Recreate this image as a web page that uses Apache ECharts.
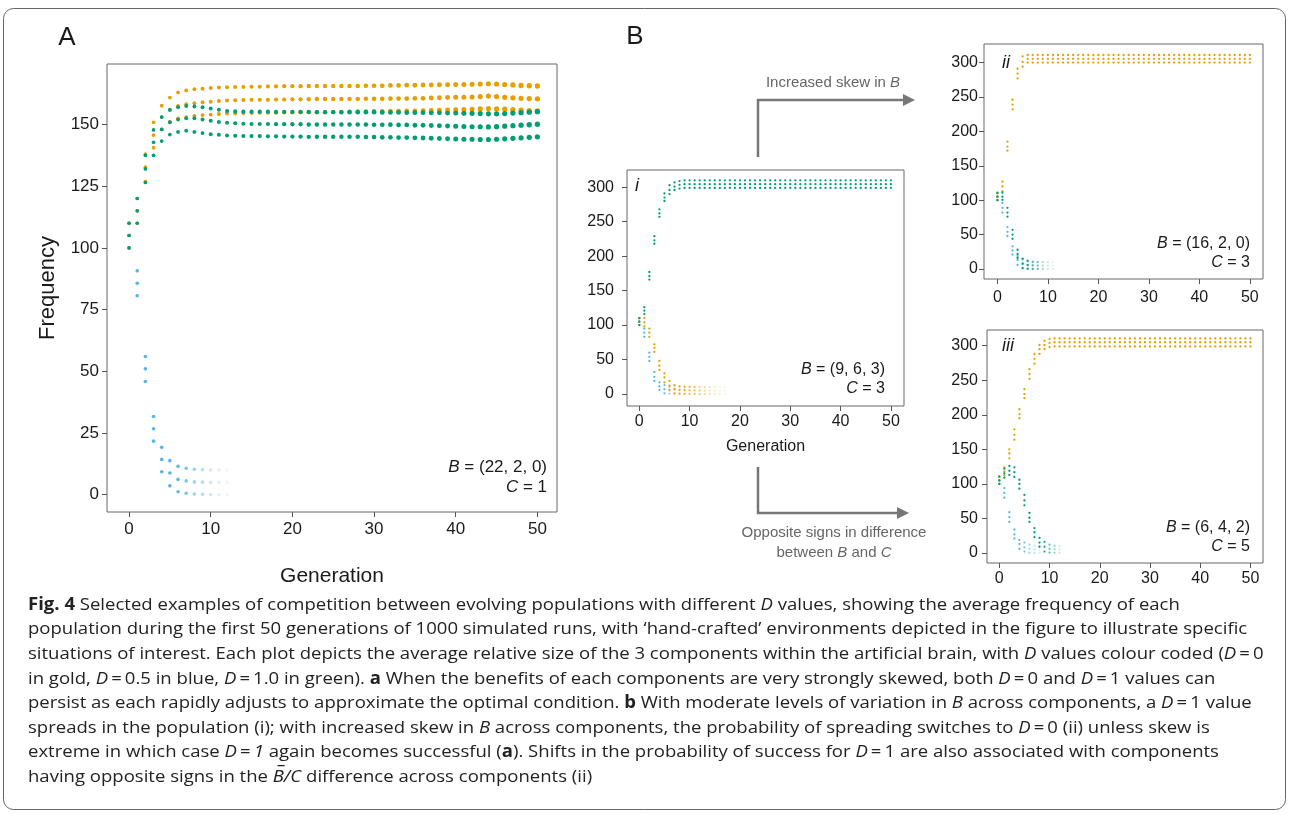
<!DOCTYPE html>
<html>
<head>
<meta charset="utf-8">
<title>Fig. 4</title>
<script src="https://cdn.jsdelivr.net/npm/echarts@6/dist/echarts.min.js"></script>
<style>
  html, body { margin: 0; padding: 0; background: #fff; }
  #fig { width: 1290px; height: 814px; }
</style>
</head>
<body>
<div id="fig"></div>
<script>
// ---- data: value per generation (index = generation), 3 components per population ----
// panel A, B = (22, 2, 0), C = 1
var goldA1 = [110,120,138,150.9,157.6,160.9,163,163.8,164.3,164.5,164.8,165,165.1,165.2,165.2,165.3,165.3,165.4,165.4,165.5,165.5,165.5,165.6,165.6,165.6,165.6,165.6,165.6,165.6,165.7,165.7,165.7,165.8,165.8,165.9,165.9,166,166,166.1,166.1,166.2,166.2,166.3,166.4,166.5,166.4,166.2,166,165.8,165.7,165.6];
var goldA2 = [105,115,132.7,145.7,153,156,157.5,158.2,158.6,159,159.2,159.5,159.7,159.8,159.9,160,160,160,160.1,160.1,160.2,160.2,160.2,160.3,160.3,160.3,160.3,160.3,160.3,160.4,160.4,160.4,160.5,160.5,160.5,160.6,160.6,160.7,160.8,160.9,161,161,161.1,161.3,161.5,161.3,161,160.8,160.6,160.5,160.4];
var goldA3 = [100,110,126.9,140.6,148,151,152.5,153,153.5,153.8,154,154.2,154.4,154.5,154.6,154.7,154.8,154.8,154.8,154.9,154.9,155,155,155,155,155.1,155.1,155.1,155.2,155.2,155.3,155.3,155.4,155.4,155.5,155.5,155.6,155.7,155.8,155.9,156,156.1,156.2,156.3,156.4,156.3,156.2,156,155.8,155.6,155.5];
var greenA1 = [110,120,137.5,147.8,153,155.9,157,157.5,157.3,157,156.5,156,155.5,155.3,155.2,155.2,155.2,155.2,155.1,155.1,155.1,155.1,155.1,155,155,155,155,155,155,155,155,154.9,154.9,154.9,154.8,154.8,154.8,154.7,154.7,154.6,154.6,154.5,154.5,154.4,154.3,154.3,154.4,154.6,154.8,155,155.2];
var greenA2 = [105,115,132,142.8,148,150.9,152,152.5,152.5,152,151.5,151,150.7,150.5,150.3,150.2,150.2,150.2,150.1,150.1,150.1,150.1,150,150,150,150,150,150,150,150,149.9,149.9,149.9,149.8,149.8,149.7,149.7,149.6,149.5,149.4,149.3,149.2,149.1,149.1,149,149.1,149.3,149.5,149.7,149.9,150.1];
var greenA3 = [100,110,126.5,137.5,143.3,145.9,147,147.5,147,146.5,146,145.8,145.5,145.4,145.3,145.3,145.3,145.2,145.2,145.1,145.1,145.1,145,145,145,145,145,145,145,144.9,144.9,144.8,144.8,144.7,144.7,144.6,144.5,144.4,144.3,144.2,144.1,144,144,143.9,143.9,144,144.2,144.4,144.6,144.8,145];
var blueA1 = [110,90.7,56,31.7,19.2,13.8,11.5,10.7,10.3,10.1,10,10,10];
var blueA2 = [105,85.7,51,26.7,14.3,8.8,6.2,5.6,5.2,5.1,5,5,5];
var blueA3 = [100,80.6,45.9,21.7,9.3,3.6,1.2,0.6,0.3,0.2,0.1,0,0];
var blueAliveA = [1,1,1,1,1,1,0.95,0.8,0.6,0.45,0.3,0.18,0.1];

// panel B i, B = (9, 6, 3), C = 3
var greenI1 = [110,126,177,229,268,291,303,307,309,310,310,310,310,310,310,310,310,310,310,310,310,310,310,310,310,310,310,310,310,310,310,310,310,310,310,310,310,310,310,310,310,310,310,310,310,310,310,310,310,310,310];
var greenI2 = [105,121,171,223,262,285,296,301,303.5,304.5,304.5,304.5,304.5,304.5,304.5,304.5,304.5,304.5,304.5,304.5,304.5,304.5,304.5,304.5,304.5,304.5,304.5,304.5,304.5,304.5,304.5,304.5,304.5,304.5,304.5,304.5,304.5,304.5,304.5,304.5,304.5,304.5,304.5,304.5,304.5,304.5,304.5,304.5,304.5,304.5,304.5];
var greenI3 = [100,116,166,218,257,280,290,296,298,299,299,299,299,299,299,299,299,299,299,299,299,299,299,299,299,299,299,299,299,299,299,299,299,299,299,299,299,299,299,299,299,299,299,299,299,299,299,299,299,299,299];
var goldI1 = [110,110,95,72,48,30,19,13,11,10.5,10.3,10.2,10.1,10,10,10,10,10];
var goldI2 = [105,104,89,67,41,24,12,7,6,5.5,5.3,5.2,5.1,5,5,5,5,5];
var goldI3 = [100,98,83,61,35,17,6,1,0.5,0.3,0.2,0.1,0,0,0,0,0,0];
var goldAliveI = [1,1,1,1,1,1,1,1,0.95,0.85,0.75,0.62,0.5,0.4,0.3,0.22,0.15,0.1];
var blueI1 = [110,95,60,32,17,13,10,10];
var blueI2 = [105,89,54,25,11,7,5,5];
var blueI3 = [100,83,48,19,6,1,0.5,0];
var blueAliveI = [1,1,1,1,1,0.9,0.5,0.25];

// panel B ii, B = (16, 2, 0), C = 3
var goldII1 = [110,127,185,246,291,309,311,311,311,311,311,311,311,311,311,311,311,311,311,311,311,311,311,311,311,311,311,311,311,311,311,311,311,311,311,311,311,311,311,311,311,311,311,311,311,311,311,311,311,311,311];
var goldII2 = [105,120,178,239,284,301,305.5,305.5,305.5,305.5,305.5,305.5,305.5,305.5,305.5,305.5,305.5,305.5,305.5,305.5,305.5,305.5,305.5,305.5,305.5,305.5,305.5,305.5,305.5,305.5,305.5,305.5,305.5,305.5,305.5,305.5,305.5,305.5,305.5,305.5,305.5,305.5,305.5,305.5,305.5,305.5,305.5,305.5,305.5,305.5,305.5];
var goldII3 = [100,113,172,232,277,294,300,300,300,300,300,300,300,300,300,300,300,300,300,300,300,300,300,300,300,300,300,300,300,300,300,300,300,300,300,300,300,300,300,300,300,300,300,300,300,300,300,300,300,300,300];
var greenII1 = [111,111,89,57,28,15,12,10.5,10,10,10,10];
var greenII2 = [105,105,82,50,22,8,6,5.3,5,5,5,5];
var greenII3 = [100,100.6,76,44,16,1.4,0.5,0.2,0,0,0,0];
var greenAliveII = [1,1,1,1,1,1,0.9,0.7,0.5,0.35,0.2,0.1];
var blueII1 = [110,96,61,33,19,14,11,10,10];
var blueII2 = [105,89,54,27,13,7,5.5,5,5];
var blueII3 = [100,82,48,21,6,1,0.5,0,0];
var blueAliveII = [1,1,1,1,1,0.85,0.6,0.35,0.2];

// panel B iii, B = (6, 4, 2), C = 5
var goldIII1 = [110,124,150,179,208,237,266,288,301,307,310,310.5,310.5,310.5,310.5,310.5,310.5,310.5,310.5,310.5,310.5,310.5,310.5,310.5,310.5,310.5,310.5,310.5,310.5,310.5,310.5,310.5,310.5,310.5,310.5,310.5,310.5,310.5,310.5,310.5,310.5,310.5,310.5,310.5,310.5,310.5,310.5,310.5,310.5,310.5,310.5];
var goldIII2 = [105,118,144,171,201,230,259,281,295,301,304,305,305,305,305,305,305,305,305,305,305,305,305,305,305,305,305,305,305,305,305,305,305,305,305,305,305,305,305,305,305,305,305,305,305,305,305,305,305,305,305];
var goldIII3 = [100,112,137,164,195,224,252,274,288,295,298,299,299,299,299,299,299,299,299,299,299,299,299,299,299,299,299,299,299,299,299,299,299,299,299,299,299,299,299,299,299,299,299,299,299,299,299,299,299,299,299];
var greenIII1 = [111,122,126,124,106,84,58,36,22,16,12,10.5,10];
var greenIII2 = [105,115,119,117,100,76,51,30,15,9,6,5.3,5];
var greenIII3 = [100,109,113,110,93,69,45,23,9,2,0.5,0.2,0];
var greenAliveIII = [1,1,1,1,1,1,1,1,1,0.85,0.6,0.4,0.2];
var blueIII1 = [110,94,59,34,19,15,12,10.5,10];
var blueIII2 = [105,87,52,27,13,8,6,5,5];
var blueIII3 = [100,80,45,21,6,2,0.5,0,0];
var blueAliveIII = [1,1,1,1,1,0.8,0.55,0.35,0.2];

// tick labels
var genTicks = [0, 10, 20, 30, 40, 50];
var freqTicksA = [0, 25, 50, 75, 100, 125, 150];
var freqTicksB = [0, 50, 100, 150, 200, 250, 300];

var GOLD = '#E69F00', BLUE = '#56B4E9', GREEN = '#009E73';
var FONT = '"Liberation Sans", Arial, Helvetica, sans-serif';
var INK = '#1a1a1a';

function points(rows, alive) {
  var out = [];
  rows.forEach(function (row) {
    row.forEach(function (v, g) {
      out.push({ value: [g, v], itemStyle: { opacity: alive ? alive[g] : 1 } });
    });
  });
  return out;
}

function dots(grid, color, rows, alive, size) {
  return {
    type: 'scatter', xAxisIndex: grid, yAxisIndex: grid,
    data: points(rows, alive),
    symbolSize: size,
    itemStyle: { color: color },
    silent: true
  };
}

function xAxisFor(grid, min, max, fs, margin, name, gap) {
  return {
    gridIndex: grid, type: 'value', min: min, max: max, position: 'bottom',
    axisLine: { show: false, onZero: false },
    axisTick: { show: true, length: 5, customValues: genTicks, lineStyle: { color: '#555' } },
    axisLabel: { customValues: genTicks, fontSize: fs, color: INK, fontFamily: FONT, margin: margin },
    splitLine: { show: false },
    name: name || '', nameLocation: 'middle', nameGap: gap || 0,
    nameTextStyle: { fontSize: grid === 0 ? 21 : 16, color: INK, fontFamily: FONT }
  };
}

function yAxisFor(grid, min, max, ticks, fs, margin, name, gap) {
  return {
    gridIndex: grid, type: 'value', min: min, max: max, position: 'left',
    axisLine: { show: false, onZero: false },
    axisTick: { show: true, length: 5, customValues: ticks, lineStyle: { color: '#555' } },
    axisLabel: { customValues: ticks, fontSize: fs, color: INK, fontFamily: FONT, margin: margin },
    splitLine: { show: false },
    name: name || '', nameLocation: 'middle', nameGap: gap || 0, nameRotate: 90,
    nameTextStyle: { fontSize: 22, color: INK, fontFamily: FONT }
  };
}

var gridBox = { show: true, borderColor: '#666', borderWidth: 1, backgroundColor: 'transparent', outerBoundsMode: 'none' };

function note(x, y, text, size, color, align) {
  return {
    type: 'text', x: x, y: y, silent: true,
    style: {
      text: text, fontSize: size, fontFamily: FONT, fill: color || INK,
      align: align || 'right', verticalAlign: 'middle',
      rich: { i: { fontStyle: 'italic', fontSize: size, fontFamily: FONT, fill: color || INK } }
    }
  };
}

var CAP = '"Open Sans", "Noto Sans", sans-serif';
var captionLines = [
  '{b|Fig. 4} Selected examples of competition between evolving populations with different {i|D} values, showing the average frequency of each',
  'population during the first 50 generations of 1000 simulated runs, with \u2018hand-crafted\u2019 environments depicted in the figure to illustrate specific',
  'situations of interest. Each plot depicts the average relative size of the 3 components within the artificial brain, with {i|D} values colour coded ({i|D}\u2009=\u20090',
  'in gold, {i|D}\u2009=\u20090.5 in blue, {i|D}\u2009=\u20091.0 in green). {b|a} When the benefits of each components are very strongly skewed, both {i|D}\u2009=\u20090 and {i|D}\u2009=\u20091 values can',
  'persist as each rapidly adjusts to approximate the optimal condition. {b|b} With moderate levels of variation in {i|B} across components, a {i|D}\u2009=\u20091 value',
  'spreads in the population (i); with increased skew in {i|B} across components, the probability of spreading switches to {i|D}\u2009=\u20090 (ii) unless skew is',
  'extreme in which case {i|D}\u2009=\u2009{i|1} again becomes successful ({b|a}). Shifts in the probability of success for {i|D}\u2009=\u20091 are also associated with components',
  'having opposite signs in the {i|B\u0305/C} difference across components (ii)'
];

var graphics = [
  { type: 'rect', silent: true, shape: { x: 3.5, y: 8.5, width: 1282, height: 801, r: 10 },
    style: { fill: 'none', stroke: '#666', lineWidth: 1 } },
  note(67, 38, 'A', 26, INK, 'center'),
  note(635, 37, 'B', 26, INK, 'center'),
  note(637, 186, '{i|i}', 18, INK, 'center'),
  note(1006, 63, '{i|ii}', 18, INK, 'center'),
  note(1008, 346, '{i|iii}', 18, INK, 'center'),
  note(547, 467, '{i|B} = (22, 2, 0)', 17),
  note(547, 487, '{i|C} = 1', 17),
  note(885, 370, '{i|B} = (9, 6, 3)', 16),
  note(885, 389, '{i|C} = 3', 16),
  note(1250, 244, '{i|B} = (16, 2, 0)', 16),
  note(1250, 263, '{i|C} = 3', 16),
  note(1250, 528, '{i|B} = (6, 4, 2)', 16),
  note(1250, 547, '{i|C} = 5', 16),
  note(833, 83, 'Increased skew in {i|B}', 15, '#666', 'center'),
  note(834, 533, 'Opposite signs in difference', 15, '#666', 'center'),
  note(834, 553, 'between {i|B} and {i|C}', 15, '#666', 'center'),
  { type: 'polyline', silent: true, shape: { points: [[758, 157], [758, 100], [905, 100]] },
    style: { stroke: '#777', lineWidth: 2.5, fill: 'none' } },
  { type: 'polygon', silent: true, shape: { points: [[903, 94], [915, 100], [903, 106]] },
    style: { fill: '#777' } },
  { type: 'polyline', silent: true, shape: { points: [[758, 467], [758, 513], [898, 513]] },
    style: { stroke: '#777', lineWidth: 2.5, fill: 'none' } },
  { type: 'polygon', silent: true, shape: { points: [[897, 507], [909, 513], [897, 519]] },
    style: { fill: '#777' } }
];

captionLines.forEach(function (line, k) {
  graphics.push({
    type: 'text', x: 28, y: 605 + k * 24.6, scaleX: 1.09, silent: true,
    style: {
      text: line, fontSize: 17, fontFamily: CAP, fill: '#222',
      align: 'left', verticalAlign: 'middle',
      rich: {
        b: { fontWeight: 'bold', fontSize: 17, fontFamily: CAP, fill: '#222' },
        i: { fontStyle: 'italic', fontSize: 17, fontFamily: CAP, fill: '#222' }
      }
    }
  });
});

var growA = function (val) { return 3.6 + val[0] * 0.035; };

var chart = echarts.init(document.getElementById('fig'), null, { renderer: 'canvas' });
chart.setOption({
  animation: false,
  backgroundColor: '#fff',
  grid: [
    Object.assign({ left: 107, top: 64, width: 450, height: 448 }, gridBox),
    Object.assign({ left: 627, top: 170, width: 277, height: 236 }, gridBox),
    Object.assign({ left: 984, top: 44, width: 279, height: 235 }, gridBox),
    Object.assign({ left: 987, top: 330, width: 276, height: 233 }, gridBox)
  ],
  xAxis: [
    xAxisFor(0, -2.7, 52.4, 17, 9, 'Generation', 54),
    xAxisFor(1, -2.44, 52.6, 16, 8, 'Generation', 33),
    xAxisFor(2, -2.65, 52.6, 16, 11),
    xAxisFor(3, -2.45, 52.5, 16, 8)
  ],
  yAxis: [
    yAxisFor(0, -7, 174.5, freqTicksA, 17, 8, 'Frequency', 48),
    yAxisFor(1, -17.4, 325, freqTicksB, 16, 13),
    yAxisFor(2, -14.5, 327, freqTicksB, 16, 6),
    yAxisFor(3, -14.5, 322.7, freqTicksB, 16, 9)
  ],
  series: [
    dots(0, BLUE, [blueA1, blueA2, blueA3], blueAliveA, 3.6),
    dots(0, GOLD, [goldA1, goldA2, goldA3], null, growA),
    dots(0, GREEN, [greenA1, greenA2, greenA3], null, growA),
    dots(1, BLUE, [blueI1, blueI2, blueI3], blueAliveI, 2.3),
    dots(1, GOLD, [goldI1, goldI2, goldI3], goldAliveI, 2.3),
    dots(1, GREEN, [greenI1, greenI2, greenI3], null, 2.3),
    dots(2, BLUE, [blueII1, blueII2, blueII3], blueAliveII, 2.3),
    dots(2, GOLD, [goldII1, goldII2, goldII3], null, 2.3),
    dots(2, GREEN, [greenII1, greenII2, greenII3], greenAliveII, 2.3),
    dots(3, BLUE, [blueIII1, blueIII2, blueIII3], blueAliveIII, 2.3),
    dots(3, GOLD, [goldIII1, goldIII2, goldIII3], null, 2.3),
    dots(3, GREEN, [greenIII1, greenIII2, greenIII3], greenAliveIII, 2.3)
  ],
  graphic: graphics
});
</script>
</body>
</html>
